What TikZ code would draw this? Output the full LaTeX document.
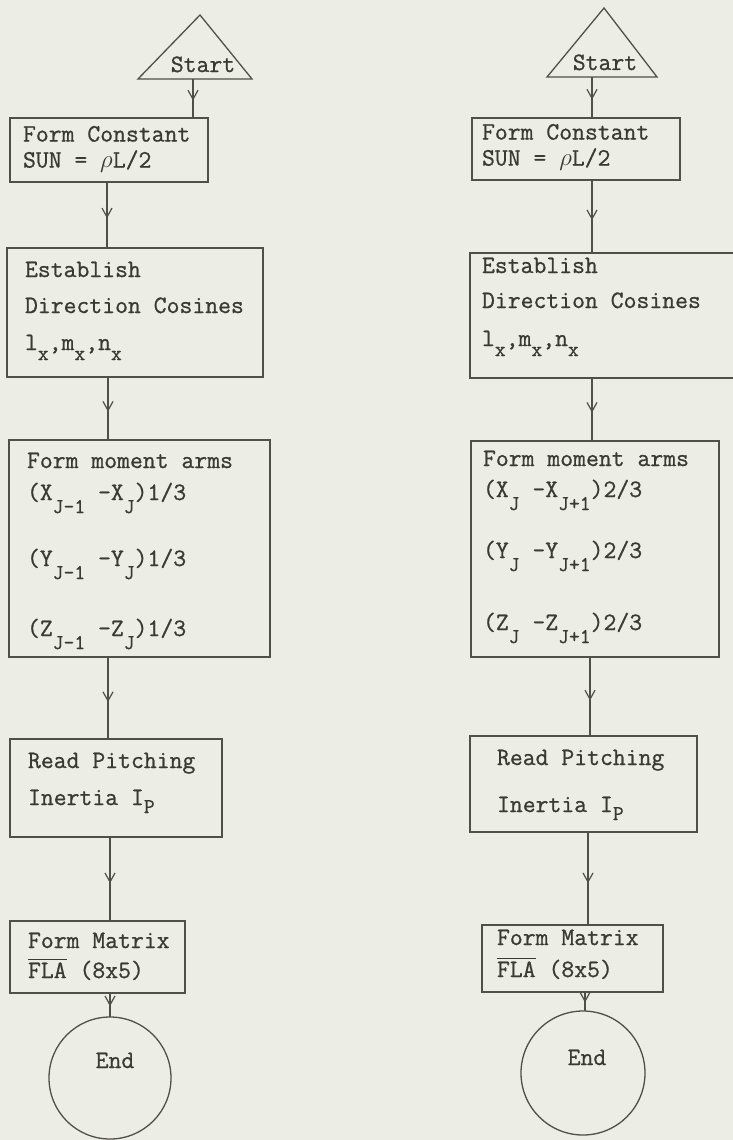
\documentclass[tikz,border=0pt]{standalone}
\usepackage{fontspec}
\newfontfamily\typewriter{Latin Modern Mono}[FakeBold=0.8]
\usetikzlibrary{arrows.meta,decorations.markings}

\definecolor{paper}{RGB}{236,237,228}
\definecolor{ink}{RGB}{80,80,74}
\definecolor{type}{RGB}{58,58,52}

% lowered, slightly smaller characters (typed half a line down)
\newcommand\sbx[2]{\raisebox{-#1pt}{\fontsize{21}{21}\selectfont #2}}
% bar over a name
\newcommand\barred[1]{\vbox{\hrule height 1.3pt\kern 2.5pt\hbox{#1}}}

\tikzset{
  line/.style={draw=ink, line width=1.3pt},
  boxnode/.style={line, rectangle, anchor=north west, inner sep=0pt, outer sep=0pt},
  endnode/.style={line, circle, inner sep=0pt, outer sep=0pt},
  txt/.style={inner sep=0pt, outer sep=0pt, text=type, text height=16pt, text depth=5pt,
    font=\typewriter\fontsize{25}{30}\selectfont, anchor=base west},
  % two closely typed lines in one block, anchored at the first line's top
  txtpair/.style={inner sep=0pt, outer sep=0pt, text=type, align=left,
    font=\typewriter\fontsize{25}{26}\selectfont, anchor=north west},
  flow/.style={line, postaction={decorate},
    decoration={markings, mark=at position 0.55 with
      {\arrow[ink]{Straight Barb[length=9pt,width=10pt,line width=1.2pt]}}}}
}

\begin{document}
\begin{tikzpicture}[x=1pt,y=-1pt]
\useasboundingbox (0,0) rectangle (733,1140);
\fill[paper] (0,0) rectangle (733,1140);

% ---------------- left chart ----------------
\draw[line] (200,15) -- (252,79) -- (138,79) -- cycle;
\node[txt, anchor=base] (sL) at (203,72) {Start};
\coordinate (tLb) at (193,79);

\node[boxnode, minimum width=198pt, minimum height=64pt] (b1L) at (10,118) {};
\node[txtpair] (b1Lt) at (23,126) {Form Constant\\SUN = $\rho$L/2};

\node[boxnode, minimum width=256pt, minimum height=129pt] (b2L) at (7,248) {};
\node[txt] (b2La) at (25,277) {Establish};
\node[txt] (b2Lb) at (25,313) {Direction Cosines};
\node[txt] (b2Lc) at (25,350) {l\sbx{10}{x},m\sbx{10}{x},n\sbx{10}{x}};

\node[boxnode, minimum width=261pt, minimum height=217pt] (b3L) at (9,440) {};
\node[txt] (b3La) at (27,468) {Form moment arms};
\node[txt] (b3Lb) at (27,500) {(X\sbx{13}{J-1} -X\sbx{13}{J})1/3};
\node[txt] (b3Lc) at (27,566) {(Y\sbx{13}{J-1} -Y\sbx{13}{J})1/3};
\node[txt] (b3Ld) at (27,636) {(Z\sbx{13}{J-1} -Z\sbx{13}{J})1/3};

\node[boxnode, minimum width=212pt, minimum height=98pt] (b4L) at (10,739) {};
\node[txt] (b4La) at (28,768) {Read Pitching};
\node[txt] (b4Lb) at (28,805) {Inertia I\sbx{8}{P}};

\node[boxnode, minimum width=175pt, minimum height=72pt] (b5L) at (10,921) {};
\node[txt] (b5La) at (28,948) {Form Matrix};
\node[txt] (b5Lb) at (28,978) {\barred{FLA} (8x5)};

\node[endnode, minimum size=122pt] (eL) at (110,1078) {};
\node[txt, anchor=base] (eLt) at (115,1068) {End};

\coordinate (xL1) at (107,0);
\coordinate (xL2) at (108,0);
\coordinate (xL3) at (110,0);
\draw[flow] (tLb) -- (b1L.north -| tLb);
\draw[flow] (b1L.south -| xL1) -- (b2L.north -| xL1);
\draw[flow] (b2L.south -| xL2) -- (b3L.north -| xL2);
\draw[flow] (b3L.south -| xL2) -- (b4L.north -| xL2);
\draw[flow] (b4L.south -| xL3) -- (b5L.north -| xL3);
\draw[flow] (b5L.south -| xL3) -- (eL.north -| xL3);

% ---------------- right chart ----------------
\draw[line] (604,8) -- (657,77) -- (547,77) -- cycle;
\node[txt, anchor=base] (sR) at (605,70) {Start};
\coordinate (tRb) at (592,77);

\node[boxnode, minimum width=208pt, minimum height=62pt] (b1R) at (472,118) {};
\node[txtpair] (b1Rt) at (482,124) {Form Constant\\SUN = $\rho$L/2};

\node[boxnode, minimum width=280pt, minimum height=125pt] (b2R) at (470,253) {};
\node[txt] (b2Ra) at (482,273) {Establish};
\node[txt] (b2Rb) at (482,308) {Direction Cosines};
\node[txt] (b2Rc) at (482,346) {l\sbx{10}{x},m\sbx{10}{x},n\sbx{10}{x}};

\node[boxnode, minimum width=248pt, minimum height=216pt] (b3R) at (471,441) {};
\node[txt] (b3Ra) at (483,466) {Form moment arms};
\node[txt] (b3Rb) at (483,497) {(X\sbx{13}{J} -X\sbx{13}{J+1})2/3};
\node[txt] (b3Rc) at (483,558) {(Y\sbx{13}{J} -Y\sbx{13}{J+1})2/3};
\node[txt] (b3Rd) at (483,630) {(Z\sbx{13}{J} -Z\sbx{13}{J+1})2/3};

\node[boxnode, minimum width=227pt, minimum height=96pt] (b4R) at (470,736) {};
\node[txt] (b4Ra) at (497,765) {Read Pitching};
\node[txt] (b4Rb) at (497,812) {Inertia I\sbx{8}{P}};

\node[boxnode, minimum width=181pt, minimum height=67pt] (b5R) at (482,925) {};
\node[txt] (b5Ra) at (497,945) {Form Matrix};
\node[txt] (b5Rb) at (497,977) {\barred{FLA} (8x5)};

\node[endnode, minimum size=124pt] (eR) at (583,1073) {};
\node[txt, anchor=base] (eRt) at (587,1065) {End};

\coordinate (xR1) at (592,0);
\coordinate (xR2) at (590,0);
\coordinate (xR3) at (588,0);
\coordinate (xR4) at (585,0);
\draw[flow] (tRb) -- (b1R.north -| tRb);
\draw[flow] (b1R.south -| xR1) -- (b2R.north -| xR1);
\draw[flow] (b2R.south -| xR1) -- (b3R.north -| xR1);
\draw[flow] (b3R.south -| xR2) -- (b4R.north -| xR2);
\draw[flow] (b4R.south -| xR3) -- (b5R.north -| xR3);
\draw[flow] (b5R.south -| xR4) -- (eR.north -| xR4);
\end{tikzpicture}
\end{document}
